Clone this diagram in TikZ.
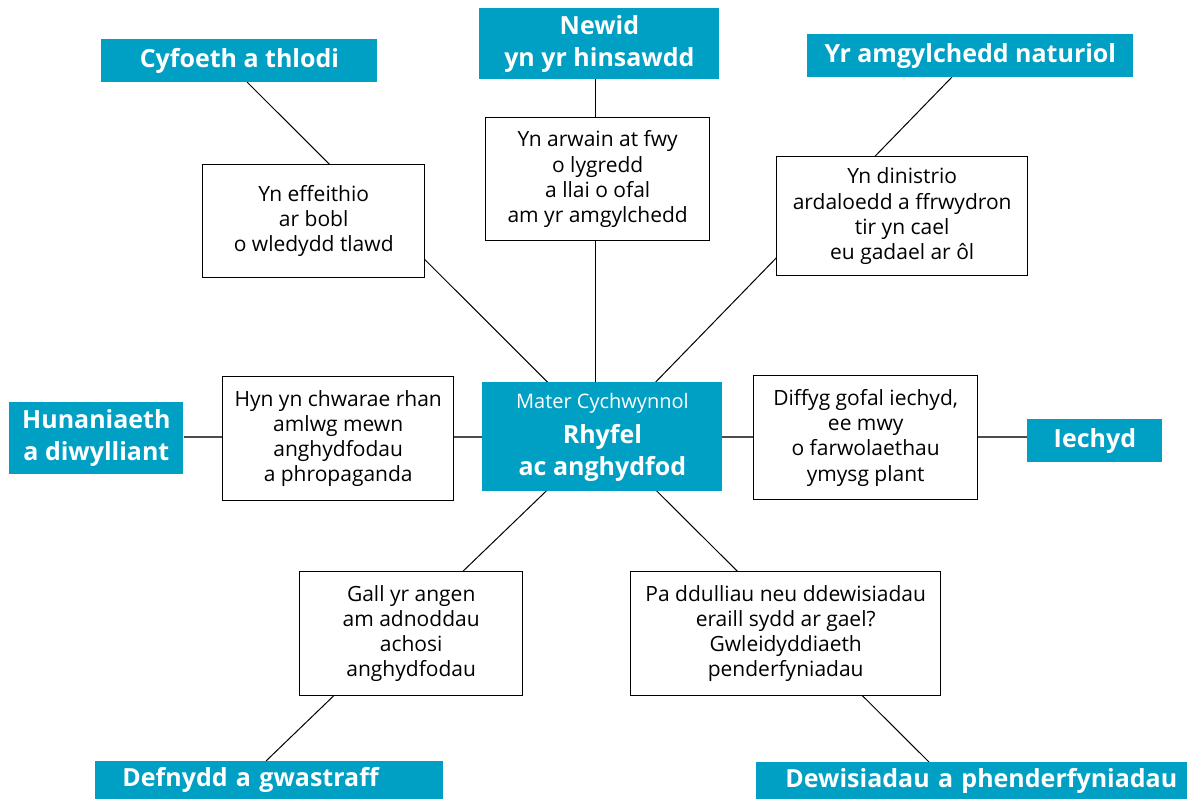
\documentclass[tikz,border=0pt]{standalone}
\usepackage{fontspec}
\setmainfont{Open Sans}
\usetikzlibrary{backgrounds}
\definecolor{tealbox}{HTML}{009FC4}
\begin{document}
\begin{tikzpicture}[x=0.5pt,y=-0.5pt,
  tbox/.style={fill=tealbox, text=white, font=\bfseries\fontsize{12.5}{16}\selectfont, align=center, inner sep=0pt, anchor=north west},
  wbox/.style={draw=black, line width=0.7pt, fill=white, font=\fontsize{10.5}{12.6}\selectfont, align=center, inner sep=0pt, anchor=north west},
  link/.style={draw=black, line width=0.5pt},
  hlink/.style={draw=black!70, line width=0.9pt}]
\useasboundingbox (0,0) rectangle (1188,798);
% teal topic boxes
\node[tbox, minimum width=138pt, minimum height=21.5pt] (cyf) at (101,39) {Cyfoeth a thlodi};
\node[tbox, minimum width=120pt, minimum height=35.5pt] (nw) at (479,8) {Newid\\yn yr hinsawdd};
\node[tbox, minimum width=163pt, minimum height=21.5pt] (amg) at (807,34) {Yr amgylchedd naturiol};
\node[tbox, minimum width=87pt, minimum height=36pt] (hun) at (9,402) {Hunaniaeth\\a diwylliant};
\node[tbox, minimum width=67.5pt, minimum height=21.5pt] (iec) at (1027,419) {Iechyd};
\node[tbox, minimum width=174pt, minimum height=19pt, text width=174pt, align=left] (def) at (95,761) {\hspace*{13.5pt}Defnydd a gwastraff};
\node[tbox, minimum width=215.5pt, minimum height=18.5pt, text width=215.5pt, align=left] (dew) at (756,762) {\hspace*{14.5pt}Dewisiadau a phenderfyniadau};
% centre
\node[tbox, minimum width=120pt, minimum height=54.5pt] (ctr) at (482,382) {{\mdseries\fontsize{10}{12}\selectfont Mater Cychwynnol}\\[1.5pt]Rhyfel\\ac anghydfod};
% white boxes
\node[wbox, minimum width=111pt, minimum height=56.5pt] (eff) at (202,164) {Yn effeithio\\ar bobl\\o wledydd tlawd};
\node[wbox, minimum width=112pt, minimum height=61.5pt] (arw) at (485,117) {Yn arwain at fwy\\o lygredd\\a llai o ofal\\am yr amgylchedd};
\node[wbox, minimum width=125.5pt, minimum height=59.5pt] (din) at (776,156) {Yn dinistrio\\ardaloedd a ffrwydron\\tir yn cael\\eu gadael ar ôl};
\node[wbox, minimum width=115.5pt, minimum height=62pt] (hyn) at (222,376) {Hyn yn chwarae rhan\\amlwg mewn\\anghydfodau\\a phropaganda};
\node[wbox, minimum width=112pt, minimum height=62pt] (dif) at (753,375) {Diffyg gofal iechyd,\\ee mwy\\o farwolaethau\\ymysg plant};
\node[wbox, minimum width=111.5pt, minimum height=62pt] (gal) at (299,571) {Gall yr angen\\am adnoddau\\achosi\\anghydfodau};
\node[wbox, minimum width=155pt, minimum height=62pt] (pad) at (630,571) {Pa ddulliau neu ddewisiadau\\eraill sydd ar gael?\\Gwleidyddiaeth\\penderfyniadau};
% attachment points
\coordinate (cyfA) at (247,82);
\coordinate (nwA) at (595,79);
\coordinate (amgA) at (952,77);
\coordinate (defA) at (266,761);
\coordinate (dewA) at (929,762);
\begin{scope}[on background layer]
\draw[link] (cyfA) -- (ctr.center);
\draw[link] (nwA) -- (nwA |- ctr.north);
\draw[link] (amgA) -- (ctr.center);
\draw[link] (defA) -- (ctr.center);
\draw[link] (dewA) -- (ctr.center);
\draw[hlink] (hun.east |- ctr.center) -- (iec.west |- ctr.center);
\end{scope}
\end{tikzpicture}
\end{document}
